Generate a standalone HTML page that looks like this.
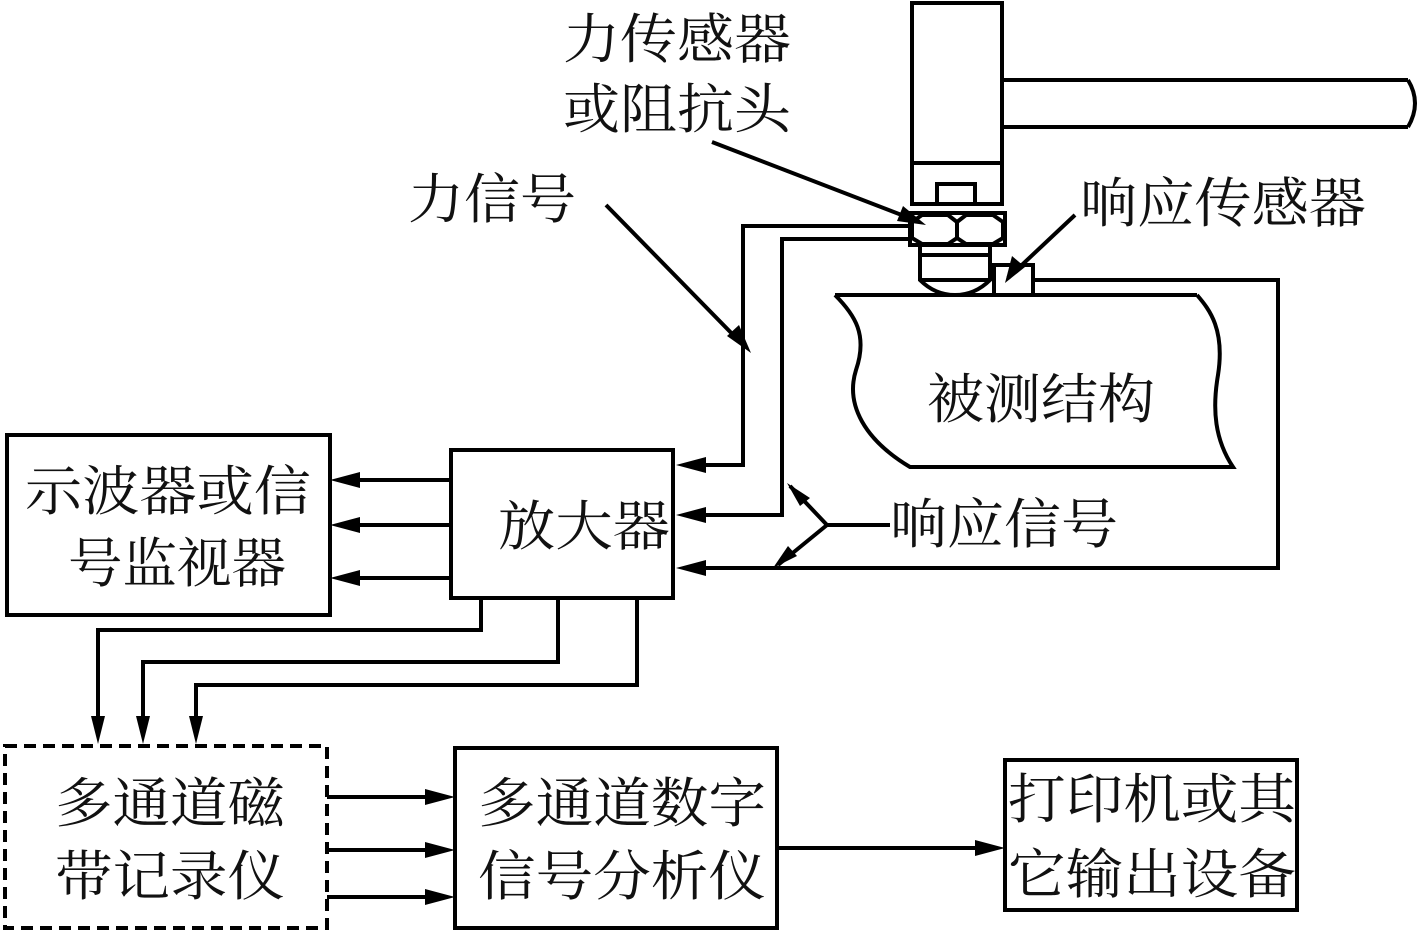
<!DOCTYPE html>
<html><head><meta charset="utf-8"><style>
html,body{margin:0;padding:0;background:#fff}
svg{display:block}
text{font-family:"Liberation Serif","Noto Serif CJK SC","Noto Sans CJK SC",serif;fill:#111}
</style></head><body>
<svg width="1421" height="935" viewBox="0 0 1421 935" xmlns="http://www.w3.org/2000/svg">
<g fill="none" stroke="#000" stroke-width="4">
<!-- hammer -->
<rect x="912" y="3" width="90" height="160"/>
<rect x="912" y="163" width="90" height="41"/>
<path d="M1002 80 H1408 M1002 127 H1408 M1408 80 Q1422 103 1408 127"/>
<rect x="937" y="184" width="38" height="20"/>
<rect x="910" y="213" width="95" height="32"/>
<path d="M912 222 L922 215 H948 L957 222 V238 L948 244 H922 L912 238 Z M957 222 L966 215 H993 L1003 222 V238 L993 244 H966 L957 238"/>
<path d="M920 245 V280 Q935 295 955 295 Q975 295 990 280 V245 M920 255 H990 M920 280 H990"/>
<rect x="994" y="265" width="39" height="30"/>
<!-- response wire -->
<path d="M1033 280 H1278 V568 H690"/>
<!-- structure -->
<path d="M835 295 H1197 M835 295 C855 315 868 335 856 370 C845 405 865 440 910 467 H1233 C1215 440 1212 410 1218 375 C1225 330 1210 310 1197 295"/>
<!-- force wires -->
<path d="M912 226 H743 V465 H690"/>
<path d="M912 239 H782 V515 H690"/>
<!-- boxes -->
<rect x="451" y="450" width="222" height="148"/>
<rect x="7" y="435" width="323" height="180"/>
<rect x="5" y="746" width="322" height="182" stroke-dasharray="12 7"/>
<rect x="455" y="748" width="322" height="180"/>
<rect x="1005" y="760" width="292" height="150"/>
<path d="M451 480 H345 M451 525 H345 M451 578 H345"/>
<path d="M481 598 V630 H98 V728 M558 598 V662 H143 V728 M637 598 V685 H196 V728"/>
<path d="M327 797 H438 M327 850 H438 M327 897 H438"/>
<path d="M777 848 H990"/>
<path d="M712 142 L912 219"/>
<path d="M606 205 L745 347"/>
<path d="M1075 215 L1008 278"/>
<path d="M890 525 H827 L790 486 M827 525 L778 565"/>
</g>
<g fill="#000">
<polygon points="676,465 706,457 706,473"/>
<polygon points="676,515 706,507 706,523"/>
<polygon points="676,568 706,560 706,576"/>
<polygon points="330,480 360,472 360,488"/>
<polygon points="330,525 360,517 360,533"/>
<polygon points="330,578 360,570 360,586"/>
<polygon points="98,744 91,716 105,716"/>
<polygon points="143,744 136,716 150,716"/>
<polygon points="196,744 189,716 203,716"/>
<polygon points="455,797 425,789 425,805"/>
<polygon points="455,850 425,842 425,858"/>
<polygon points="455,897 425,889 425,905"/>
<polygon points="1005,848 975,840 975,856"/>
<polygon points="926,225 897,221 903,206"/>
<polygon points="751,353 727,336 739,325"/>
<polygon points="1005,283 1012,256 1025,267"/>
<polygon points="787,483 810,498 800,506"/>
<polygon points="773,568 788,546 797,556"/>
</g>
<g font-size="54">
<text x="563" y="58" textLength="228" lengthAdjust="spacingAndGlyphs">力传感器</text>
<text x="563" y="128" textLength="228" lengthAdjust="spacingAndGlyphs">或阻抗头</text>
<text x="408" y="218" textLength="168" lengthAdjust="spacingAndGlyphs">力信号</text>
<text x="1080" y="222" textLength="286" lengthAdjust="spacingAndGlyphs">响应传感器</text>
<text x="927" y="418" textLength="228" lengthAdjust="spacingAndGlyphs">被测结构</text>
<text x="890" y="543" textLength="228" lengthAdjust="spacingAndGlyphs">响应信号</text>
<text x="498" y="545" textLength="172" lengthAdjust="spacingAndGlyphs">放大器</text>
<text x="25" y="510" textLength="286" lengthAdjust="spacingAndGlyphs">示波器或信</text>
<text x="68" y="582" textLength="218" lengthAdjust="spacingAndGlyphs">号监视器</text>
<text x="55" y="822" textLength="230" lengthAdjust="spacingAndGlyphs">多通道磁</text>
<text x="55" y="895" textLength="230" lengthAdjust="spacingAndGlyphs">带记录仪</text>
<text x="478" y="822" textLength="288" lengthAdjust="spacingAndGlyphs">多通道数字</text>
<text x="478" y="895" textLength="288" lengthAdjust="spacingAndGlyphs">信号分析仪</text>
<text x="1008" y="818" textLength="288" lengthAdjust="spacingAndGlyphs">打印机或其</text>
<text x="1008" y="893" textLength="288" lengthAdjust="spacingAndGlyphs">它输出设备</text>
</g>
</svg>
</body></html>
